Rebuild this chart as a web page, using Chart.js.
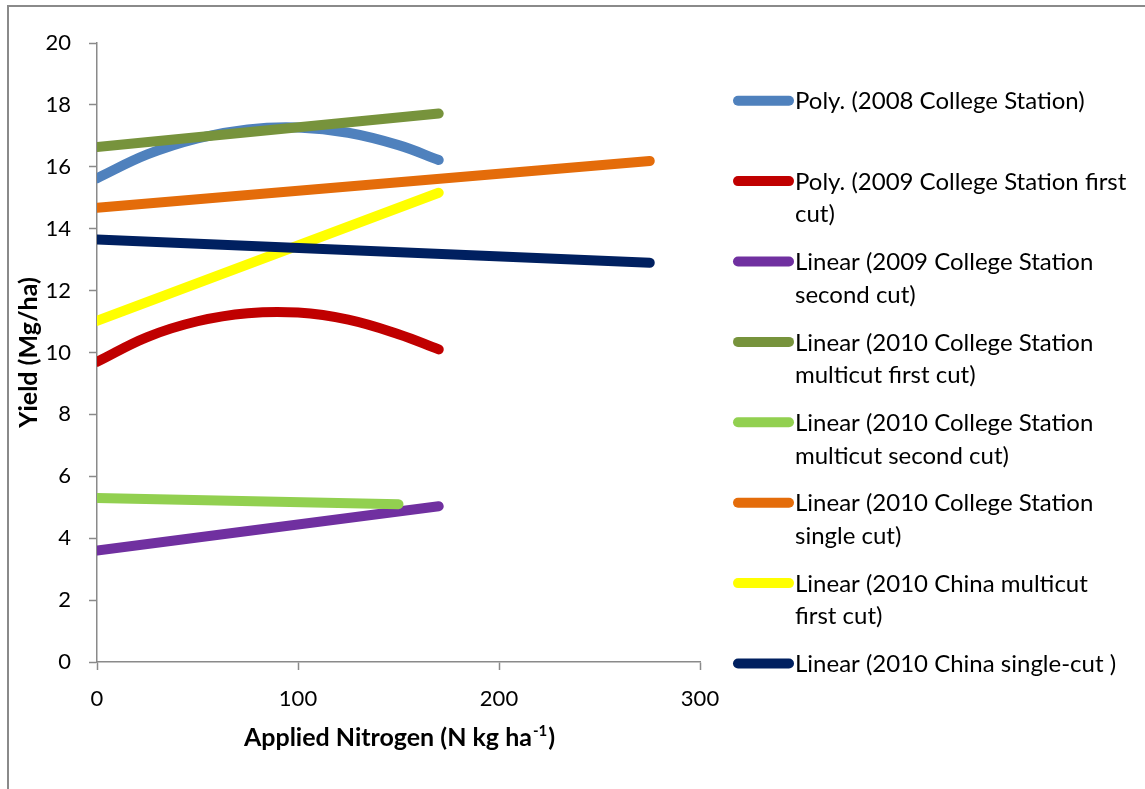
<!DOCTYPE html>
<html>
<head>
<meta charset="utf-8">
<script src="https://cdn.jsdelivr.net/npm/chart.js@4.4.1/dist/chart.umd.min.js"></script>
<style>
  html, body { margin: 0; padding: 0; background: #ffffff; }
  #wrap { width: 1145px; height: 789px; position: relative; }
</style>
</head>
<body>
<div id="wrap"><canvas id="chart" width="1145" height="789"></canvas></div>
<script>
// Nitrogen rates (N kg/ha) at which each fitted curve is evaluated
const nCurve = [0, 25, 50, 75, 100, 125, 150, 170];
const nTo170 = [0, 170];
const nTo150 = [0, 150];
const nTo275 = [0, 275];

// Fitted yields (Mg/ha)
const poly2008CS = [15.63, 16.40, 16.92, 17.21, 17.27, 17.10, 16.70, 16.22];
const poly2009CSFirst = [9.70, 10.50, 11.01, 11.27, 11.29, 11.06, 10.59, 10.10];
const lin2009CSSecond = [3.60, 5.03];
const lin2010CSMultiFirst = [16.64, 17.72];
const lin2010CSMultiSecond = [5.30, 5.10];
const lin2010CSSingle = [14.68, 16.19];
const lin2010ChinaMultiFirst = [11.02, 15.16];
const lin2010ChinaSingle = [13.65, 12.90];

// Legend captions, already broken into lines
const seriesNames = [
  ["Poly. (2008 College Station)"],
  ["Poly. (2009 College Station first", "cut)"],
  ["Linear (2009 College Station", "second cut)"],
  ["Linear (2010 College Station", "multicut first cut)"],
  ["Linear (2010 College Station", "multicut second cut)"],
  ["Linear (2010 College Station", "single cut)"],
  ["Linear (2010 China multicut", "first cut)"],
  ["Linear (2010 China single-cut )"]
];
const seriesColors = ["#4F81BD", "#C00000", "#7030A0", "#77933C", "#92D050", "#E46C0A", "#FFFF00", "#002060"];

const yTicks = [0, 2, 4, 6, 8, 10, 12, 14, 16, 18, 20];
const xTicks = [0, 100, 200, 300];

const xTitle = "Applied Nitrogen (N kg ha";
const xTitleSup = "-1";
const yTitle = "Yield (Mg/ha)";

const FONT = "Lato";

function pts(xs, ys) { return xs.map((x, i) => ({ x: x, y: ys[i] })); }

const seriesData = [
  pts(nCurve, poly2008CS),
  pts(nCurve, poly2009CSFirst),
  pts(nTo170, lin2009CSSecond),
  pts(nTo170, lin2010CSMultiFirst),
  pts(nTo150, lin2010CSMultiSecond),
  pts(nTo275, lin2010CSSingle),
  pts(nTo170, lin2010ChinaMultiFirst),
  pts(nTo275, lin2010ChinaSingle)
];

const datasets = seriesData.map((d, i) => ({
  label: seriesNames[i].join(" "),
  data: d,
  borderColor: seriesColors[i],
  backgroundColor: seriesColors[i],
  borderWidth: 10,
  borderCapStyle: "round",
  borderJoinStyle: "round",
  pointRadius: 0,
  tension: i < 2 ? 0.4 : 0,
  showLine: true,
  fill: false,
  order: seriesNames.length - i,
  clip: { left: 0, top: false, right: false, bottom: false }
}));

// Frame, axis titles and the side legend
const decorations = {
  id: "decorations",
  beforeDraw(chart) {
    const ctx = chart.ctx;
    ctx.save();
    ctx.fillStyle = "#ffffff";
    ctx.fillRect(0, 0, chart.width, chart.height);
    ctx.restore();
  },
  afterDraw(chart) {
    const ctx = chart.ctx;
    const area = chart.chartArea;
    ctx.save();

    // outer frame
    ctx.strokeStyle = "#8a8a8a";
    ctx.lineWidth = 2;
    ctx.strokeRect(8, 6, chart.width + 20, chart.height + 20);

    // x title with superscript
    ctx.fillStyle = "#000000";
    ctx.textBaseline = "alphabetic";
    const bold = "bold 25px " + FONT;
    const supFont = "bold 15px " + FONT;
    ctx.font = bold;
    const w1 = ctx.measureText(xTitle).width;
    ctx.font = supFont;
    const w2 = ctx.measureText(xTitleSup).width;
    ctx.font = bold;
    const w3 = ctx.measureText(")").width;
    const cx = (area.left + area.right) / 2;
    let x0 = cx - (w1 + w2 + w3) / 2;
    const base = 746;
    ctx.textAlign = "left";
    ctx.fillText(xTitle, x0, base);
    ctx.font = supFont;
    ctx.fillText(xTitleSup, x0 + w1 + 1, base - 10);
    ctx.font = bold;
    ctx.fillText(")", x0 + w1 + w2 + 2, base);

    // y title
    ctx.save();
    ctx.translate(37, (area.top + area.bottom) / 2);
    ctx.rotate(-Math.PI / 2);
    ctx.textAlign = "center";
    ctx.font = bold;
    ctx.fillText(yTitle, 0, 0);
    ctx.restore();

    // legend
    const sx0 = 738, sx1 = 789, tx = 795;
    const firstY = 100.7, step = 80.4, lineGap = 32.5;
    ctx.font = "24px " + FONT;
    ctx.textBaseline = "middle";
    ctx.textAlign = "left";
    chart.data.datasets.forEach((ds, i) => {
      const y = firstY + i * step;
      ctx.strokeStyle = ds.borderColor;
      ctx.lineWidth = 10;
      ctx.lineCap = "round";
      ctx.beginPath();
      ctx.moveTo(sx0, y);
      ctx.lineTo(sx1, y);
      ctx.stroke();
      ctx.fillStyle = "#000000";
      seriesNames[i].forEach((line, k) => {
        ctx.fillText(line, tx, y + k * lineGap + 1);
      });
    });
    ctx.restore();
  }
};

new Chart(document.getElementById("chart"), {
  type: "scatter",
  data: { datasets: datasets },
  options: {
    responsive: false,
    animation: false,
    devicePixelRatio: 1,
    layout: { padding: { left: 0, right: 445, top: 43, bottom: 67 } },
    plugins: {
      legend: { display: false },
      tooltip: { enabled: false },
      title: { display: false }
    },
    scales: {
      x: {
        type: "linear",
        min: 0,
        max: 300,
        afterFit(scale) { scale.height = 60; },
        afterBuildTicks(scale) { scale.ticks = xTicks.map(v => ({ value: v })); },
        grid: { display: true, drawOnChartArea: false, drawTicks: true, tickLength: 8, tickColor: "#8a8a8a", tickWidth: 1.5 },
        border: { display: true, color: "#8a8a8a", width: 1.5 },
        ticks: { color: "#000000", font: { family: FONT, size: 22 }, padding: 16, maxRotation: 0 }
      },
      y: {
        type: "linear",
        min: 0,
        max: 20,
        afterFit(scale) { scale.width = 97; },
        afterBuildTicks(scale) { scale.ticks = yTicks.map(v => ({ value: v })); },
        grid: { display: true, drawOnChartArea: false, drawTicks: true, tickLength: 8, tickColor: "#8a8a8a", tickWidth: 1.5 },
        border: { display: true, color: "#8a8a8a", width: 1.5 },
        ticks: { color: "#000000", font: { family: FONT, size: 22 }, padding: 18 }
      }
    }
  },
  plugins: [decorations]
});
</script>
</body>
</html>
